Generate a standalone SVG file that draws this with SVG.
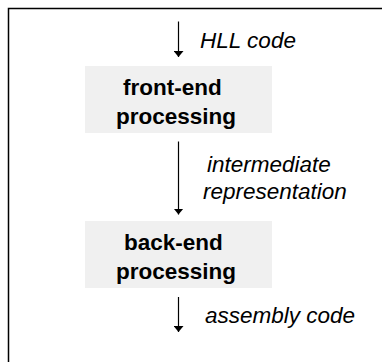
<svg xmlns="http://www.w3.org/2000/svg" width="382" height="362" viewBox="0 0 382 362">
<defs>
<style>
.box{fill:#f0f0f0;stroke:none}
.t{font-family:"Liberation Sans",Arial,sans-serif;font-size:22.5px;font-weight:bold;fill:#000}
.l{font-family:"Liberation Sans",Arial,sans-serif;font-size:22.5px;font-style:italic;fill:#000}
.c{stroke:#000;stroke-width:1.2;fill:none;marker-end:url(#ah)}
</style>
<marker id="ah" viewBox="0 0 6 10" refX="6" refY="5" markerWidth="6" markerHeight="10" markerUnits="userSpaceOnUse" orient="auto-start-reverse">
<path d="M0,0 L6,5 L0,10 Z" fill="#000" transform="rotate(0)"/>
</marker>
</defs>
<rect width="382" height="362" fill="#fff"/>
<path d="M8.5,362 V8.5 H382" fill="none" stroke="#000" stroke-width="1.5"/>
<g id="front-end">
<rect class="box" x="85" y="66" width="187" height="67"/>
<text class="t" x="123" y="94.5">front-end</text>
<text class="t" x="116" y="123.5">processing</text>
</g>
<g id="back-end">
<rect class="box" x="85" y="221" width="187" height="67"/>
<text class="t" x="124" y="249.5">back-end</text>
<text class="t" x="116" y="278.5">processing</text>
</g>
<g id="connectors">
<line class="c" x1="178.5" y1="21.5" x2="178.5" y2="57"/>
<line class="c" x1="178.5" y1="141.5" x2="178.5" y2="214.5"/>
<line class="c" x1="178.5" y1="297" x2="178.5" y2="332"/>
<text class="l" x="200" y="47.5">HLL code</text>
<text class="l" x="207" y="171.5">intermediate</text>
<text class="l" x="203" y="198.5">representation</text>
<text class="l" x="205" y="323">assembly code</text>
</g>
</svg>
